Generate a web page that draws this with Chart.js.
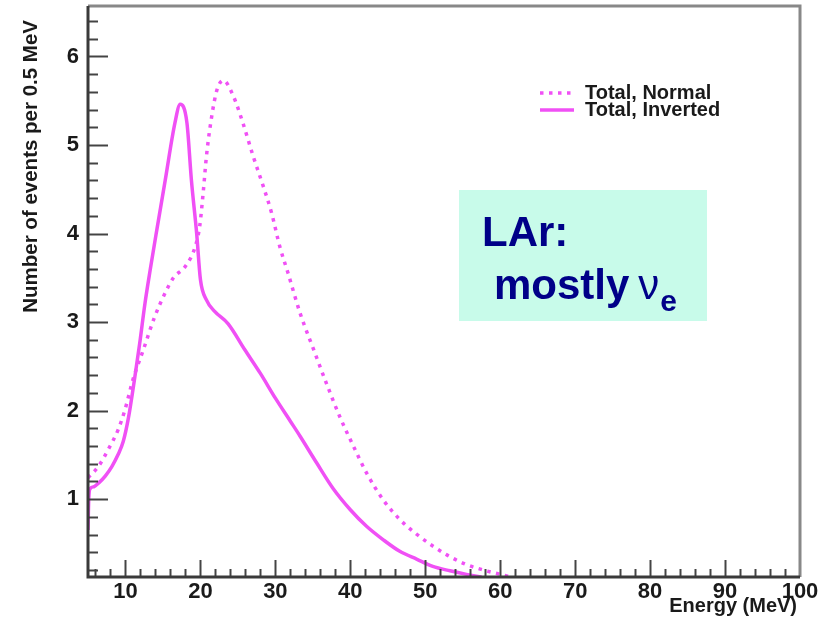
<!DOCTYPE html>
<html>
<head>
<meta charset="utf-8">
<script src="https://cdn.jsdelivr.net/npm/chart.js@4.4.1/dist/chart.umd.min.js"></script>
<style>
  html, body { margin: 0; padding: 0; background: #fff; }
  #wrap { width: 819px; height: 623px; }
</style>
</head>
<body>
<div id="wrap"><canvas id="grafico" width="819" height="623"></canvas></div>
<script>
// Dados
const energiaNormal = [5.0, 6.4, 7.7, 9.0, 9.9, 11.0, 12.4, 13.9, 15.3, 16.4, 18.0, 19.3, 19.9, 20.4, 20.8, 21.5, 22.2, 23.05, 24.4, 25.7, 27.05, 28.4, 29.5, 30.6, 31.7, 33.3, 35.1, 36.8, 38.6, 40.4, 42.2, 44.4, 46.6, 48.9, 51.0, 53.3, 55.5, 57.7, 60.0, 61.5];
const eventosNormal = [1.24, 1.37, 1.56, 1.78, 2.0, 2.35, 2.69, 3.06, 3.33, 3.5, 3.63, 3.85, 4.08, 4.49, 4.87, 5.32, 5.62, 5.73, 5.55, 5.24, 4.87, 4.53, 4.23, 3.85, 3.55, 3.1, 2.69, 2.31, 1.93, 1.6, 1.29, 0.99, 0.77, 0.6, 0.47, 0.35, 0.26, 0.2, 0.15, 0.12];

const energiaInvertida = [5.0, 5.1, 5.3, 5.8, 6.4, 7.3, 8.2, 9.0, 9.7, 10.4, 11.25, 11.9, 12.6, 13.3, 14.2, 15.3, 16.6, 17.3, 18.2, 18.8, 19.5, 20.0, 20.8, 21.9, 23.7, 25.9, 28.0, 30.0, 32.0, 33.3, 35.5, 37.7, 40.0, 42.2, 44.4, 46.6, 48.9, 51.0, 53.3, 55.5, 57.5];
const eventosInvertida = [0.65, 1.0, 1.12, 1.14, 1.18, 1.26, 1.37, 1.5, 1.65, 1.92, 2.38, 2.76, 3.21, 3.59, 4.05, 4.6, 5.25, 5.46, 5.25, 4.6, 4.0, 3.48, 3.25, 3.12, 2.98, 2.69, 2.42, 2.14, 1.88, 1.71, 1.41, 1.12, 0.88, 0.69, 0.54, 0.41, 0.32, 0.24, 0.19, 0.15, 0.12];

const rotulos = ["Total, Normal", "Total, Inverted"];
const xTicks = [10, 20, 30, 40, 50, 60, 70, 80, 90, 100];
const yTicks = [1, 2, 3, 4, 5, 6];
const tituloX = "Energy (MeV)";
const tituloY = "Number of events per 0.5 MeV";
const caixaLinha1 = "LAr:";
const caixaLinha2 = "mostly";
const caixaNu = "\u03bd";
const caixaSub = "e";

const magenta = "rgb(240,80,245)";
const fonteTicks = "'Liberation Sans Narrow', 'Liberation Sans', Arial, sans-serif";
const fonte = "'Liberation Sans', Arial, sans-serif";

const pontos = (xs, ys) => xs.map((x, i) => ({ x: x, y: ys[i] }));

// zera o espaço extra que o Chart.js reserva para os rótulos das pontas
function semPadding(s) {
  s.paddingTop = 0;
  s.paddingBottom = 0;
  s.paddingLeft = 0;
  s.paddingRight = 0;
}

// Moldura, marcas internas, títulos, legenda e caixa de texto
const moldura = {
  id: "moldura",
  afterDraw(chart) {
    const ctx = chart.ctx;
    const a = chart.chartArea;
    const sx = chart.scales.x;
    const sy = chart.scales.y;
    ctx.save();

    // ticks internos eixo x
    ctx.strokeStyle = "#444";
    ctx.lineWidth = 2;
    for (let v = 6; v <= 98; v += 2) {
      const px = Math.round(sx.getPixelForValue(v)) + 0.5;
      const len = v % 10 === 0 ? 17 : 8;
      ctx.beginPath();
      ctx.moveTo(px, a.bottom);
      ctx.lineTo(px, a.bottom - len);
      ctx.stroke();
    }
    // ticks internos eixo y
    for (let i = 1; i <= 32; i++) {
      const py = Math.round(sy.getPixelForValue(i / 5)) + 0.5;
      const len = i % 5 === 0 ? 20 : 10;
      ctx.beginPath();
      ctx.moveTo(a.left, py);
      ctx.lineTo(a.left + len, py);
      ctx.stroke();
    }

    // bordas
    ctx.lineWidth = 3;
    ctx.strokeStyle = "#888";
    ctx.beginPath();
    ctx.moveTo(a.left, a.top);
    ctx.lineTo(a.right, a.top);
    ctx.lineTo(a.right, a.bottom);
    ctx.stroke();
    ctx.strokeStyle = "#3a3a3a";
    ctx.beginPath();
    ctx.moveTo(a.left, a.top);
    ctx.lineTo(a.left, a.bottom);
    ctx.lineTo(a.right, a.bottom);
    ctx.stroke();

    // títulos dos eixos
    ctx.fillStyle = "#1a1a1a";
    ctx.font = "bold 20px " + fonte;
    ctx.textAlign = "right";
    ctx.textBaseline = "alphabetic";
    ctx.fillText(tituloX, 797, 612);
    ctx.save();
    ctx.translate(37, 20);
    ctx.rotate(-Math.PI / 2);
    ctx.font = "bold 20.5px " + fonte;
    ctx.fillText(tituloY, 0, 0);
    ctx.restore();

    // legenda
    ctx.textAlign = "left";
    ctx.font = "bold 20px " + fonte;
    const ds = chart.data.datasets;
    const linhas = [93, 110];
    ds.forEach((d, i) => {
      ctx.strokeStyle = d.borderColor;
      ctx.lineWidth = 3.5;
      ctx.setLineDash(d.borderDash || []);
      ctx.beginPath();
      ctx.moveTo(540, linhas[i]);
      ctx.lineTo(574, linhas[i]);
      ctx.stroke();
      ctx.setLineDash([]);
      ctx.fillStyle = "#1a1a1a";
      ctx.fillText(d.label, 585, linhas[i] + 6);
    });

    // caixa LAr
    ctx.fillStyle = "#c8fbea";
    ctx.fillRect(459, 190, 248, 131);
    ctx.fillStyle = "#000088";
    ctx.font = "bold 42px " + fonte;
    ctx.fillText(caixaLinha1, 482, 246);
    ctx.fillText(caixaLinha2, 494, 299);
    let x = 494 + ctx.measureText(caixaLinha2).width + 9;
    ctx.font = "42px " + fonte;
    ctx.fillText(caixaNu, x, 299);
    x += ctx.measureText(caixaNu).width + 1;
    ctx.font = "bold 30px " + fonte;
    ctx.fillText(caixaSub, x, 311);

    ctx.restore();
  }
};

new Chart(document.getElementById("grafico"), {
  type: "line",
  data: {
    datasets: [
      {
        label: rotulos[0],
        data: pontos(energiaNormal, eventosNormal),
        borderColor: magenta,
        borderWidth: 3.5,
        borderDash: [3.5, 5.5],
        pointRadius: 0,
        cubicInterpolationMode: "monotone",
        fill: false
      },
      {
        label: rotulos[1],
        data: pontos(energiaInvertida, eventosInvertida),
        borderColor: magenta,
        borderWidth: 3.5,
        pointRadius: 0,
        cubicInterpolationMode: "monotone",
        fill: false
      }
    ]
  },
  options: {
    responsive: false,
    animation: false,
    devicePixelRatio: 1,
    layout: { padding: { top: 6, right: 19, left: 0, bottom: 0 } },
    plugins: {
      legend: { display: false },
      tooltip: { enabled: false }
    },
    scales: {
      x: {
        type: "linear",
        min: 5,
        max: 100,
        afterBuildTicks: s => { s.ticks = xTicks.map(v => ({ value: v })); },
        afterFit: s => { s.height = 46; semPadding(s); },
        grid: { display: false, drawTicks: false },
        border: { display: false },
        ticks: {
          color: "#1a1a1a",
          padding: 2,
          maxRotation: 0,
          autoSkip: false,
          font: { family: fonteTicks, size: 22, weight: "bold" }
        }
      },
      y: {
        type: "linear",
        min: 0.12,
        max: 6.57,
        afterBuildTicks: s => { s.ticks = yTicks.map(v => ({ value: v })); },
        afterFit: s => { s.width = 88; semPadding(s); },
        grid: { display: false, drawTicks: false },
        border: { display: false },
        ticks: {
          color: "#1a1a1a",
          padding: 9,
          autoSkip: false,
          font: { family: fonteTicks, size: 22, weight: "bold" }
        }
      }
    }
  },
  plugins: [moldura]
});
</script>
</body>
</html>
